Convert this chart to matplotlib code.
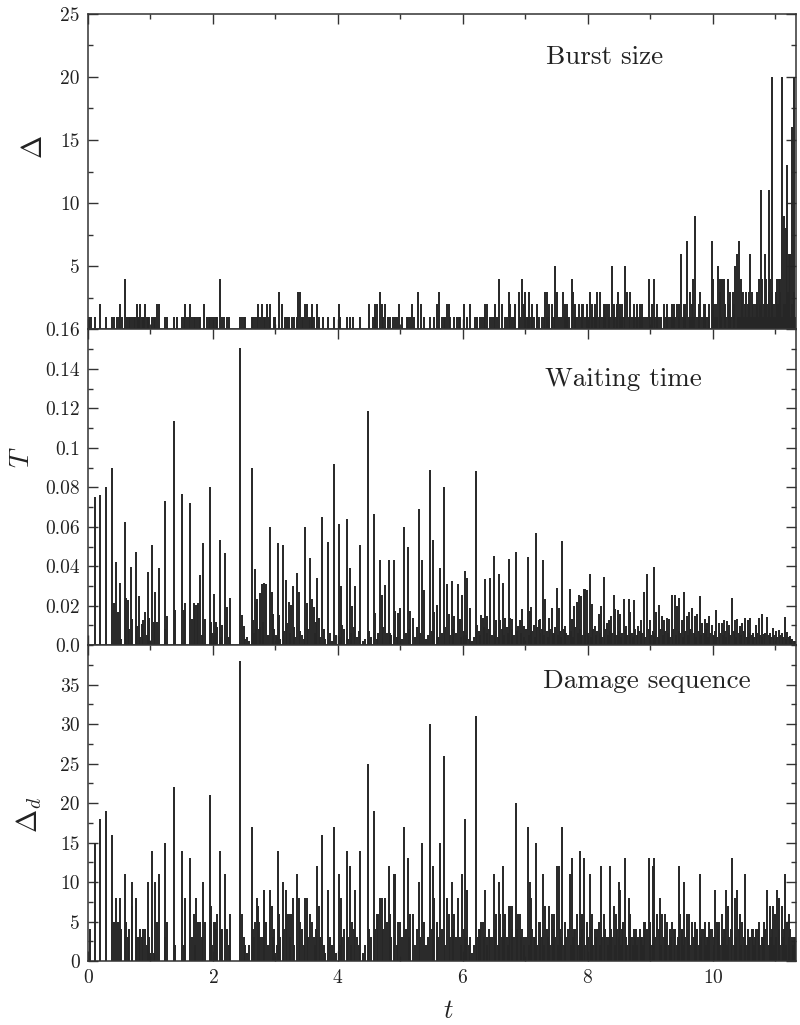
import matplotlib.pyplot as plt
from matplotlib.ticker import FixedLocator, FixedFormatter, MultipleLocator

plt.rcParams['font.family'] = 'serif'
plt.rcParams['font.serif'] = ['cmr10']
plt.rcParams['mathtext.fontset'] = 'cm'
plt.rcParams['axes.formatter.use_mathtext'] = True

# ---- burst size (top panel) ----
# times of the bursts of size 1
burst_ones_t = [0.01, 0.05, 0.11, 0.29, 0.38, 0.42, 0.46, 0.49, 0.54, 0.62, 0.65, 0.68, 0.71,
                0.74, 0.75, 0.80, 0.82, 0.86, 0.88, 0.90, 0.94, 0.96, 0.98, 1.02, 1.05, 1.07,
                1.23, 1.26, 1.37, 1.42, 1.51, 1.54, 1.58, 1.61, 1.66, 1.69, 1.71, 1.74, 1.78,
                1.79, 1.90, 1.94, 1.96, 1.99, 2.02, 2.05, 2.07, 2.14, 2.18, 2.22, 2.26, 2.43,
                2.46, 2.49, 2.51, 2.62, 2.64, 2.67, 2.70, 2.75, 2.81, 2.83, 2.89, 2.97, 2.99,
                3.15, 3.18, 3.22, 3.26, 3.29, 3.34, 3.42, 3.445, 3.53, 3.55, 3.58, 3.62, 3.69,
                3.76, 3.84, 3.93, 4.03, 4.15, 4.19, 4.24, 4.35, 4.56, 4.59, 4.72, 4.80, 4.83,
                4.88, 4.91, 4.95, 5.02, 5.10, 5.12, 5.15, 5.21, 5.37, 5.47, 5.53, 5.66, 5.69,
                5.71, 5.79, 5.85, 5.90, 5.93, 5.95, 6.06, 6.19, 6.22, 6.27, 6.30, 6.33, 6.43,
                6.46, 6.49, 6.54, 6.67, 6.70, 6.78, 6.81, 6.91, 6.99, 7.02, 7.04, 7.08, 7.11,
                7.14, 7.18, 7.22, 7.26, 7.29, 7.35, 7.38, 7.42, 7.45, 7.54, 7.57, 7.63, 7.66,
                7.70, 7.79, 7.83, 7.89, 7.95, 7.98, 8.01, 8.07, 8.10, 8.13, 8.17, 8.22, 8.25,
                8.28, 8.34, 8.36, 8.42, 8.45, 8.51, 8.54, 8.57, 8.65, 8.70, 8.73, 8.76, 8.79,
                8.82, 8.85, 8.88, 8.91, 8.94, 9.00, 9.03, 9.08, 9.11, 9.14, 9.17, 9.24, 9.27,
                9.30, 9.33, 9.36, 9.39, 9.45, 9.52, 9.55, 9.61, 9.65, 9.70, 9.75, 9.77, 9.82,
                9.85, 9.88, 9.91, 9.94, 10.03, 10.06, 10.13, 10.19, 10.21, 10.27, 10.29,
                10.34, 10.40, 10.44, 10.50, 10.52, 10.55, 10.59, 10.62, 10.65, 10.68, 10.72,
                10.76, 10.80, 10.82, 10.86, 10.88, 10.93, 10.97, 10.99, 11.03, 11.05, 11.09,
                11.12, 11.16, 11.18, 11.21, 11.23, 11.25, 11.28, 11.31]
# bursts of size >= 2 as (t, size)
burst_big = [(0.19, 2), (0.52, 2), (0.59, 4), (0.78, 2), (0.83, 2), (0.92, 2), (1.10, 2),
             (1.14, 2), (1.56, 2), (1.63, 2), (1.85, 2), (2.11, 4), (2.72, 2), (2.79, 2),
             (2.86, 2), (2.92, 2), (3.06, 3), (3.11, 2), (3.36, 3), (3.40, 3), (3.47, 2),
             (3.50, 2), (3.59, 2), (3.67, 2), (4.01, 2), (4.49, 2), (4.60, 2), (4.63, 2),
             (4.67, 3), (4.70, 2), (4.76, 2), (4.98, 2), (5.18, 2), (5.28, 3), (5.33, 2),
             (5.58, 2), (5.62, 3), (5.74, 2), (5.77, 2), (6.02, 2), (6.11, 2), (6.36, 2),
             (6.39, 2), (6.51, 2), (6.58, 4), (6.63, 2), (6.73, 3), (6.75, 2), (6.84, 2),
             (6.89, 3), (6.94, 4), (6.97, 2), (7.00, 3), (7.06, 3), (7.10, 2), (7.18, 2),
             (7.31, 3), (7.34, 3), (7.38, 2), (7.42, 2), (7.48, 5), (7.51, 3), (7.60, 3),
             (7.63, 2), (7.66, 2), (7.74, 4), (7.76, 3), (7.79, 2), (7.86, 2), (7.90, 2),
             (7.92, 2), (7.98, 2), (8.04, 3), (8.07, 2), (8.11, 2), (8.15, 3), (8.19, 3),
             (8.25, 2), (8.27, 2), (8.31, 2), (8.34, 2), (8.39, 5), (8.42, 2), (8.46, 2),
             (8.48, 3), (8.51, 2), (8.54, 2), (8.59, 5), (8.62, 3), (8.67, 3), (8.73, 2),
             (8.78, 2), (8.83, 2), (8.86, 2), (8.97, 4), (9.02, 2), (9.05, 4), (9.10, 2),
             (9.21, 2), (9.26, 2), (9.34, 2), (9.37, 2), (9.42, 2), (9.46, 2), (9.49, 6),
             (9.53, 2), (9.55, 2), (9.59, 7), (9.63, 3), (9.66, 2), (9.68, 4), (9.72, 9),
             (9.77, 2), (9.79, 3), (9.85, 2), (9.87, 2), (9.93, 2), (9.98, 7), (10.00, 4),
             (10.02, 2), (10.05, 2), (10.08, 5), (10.11, 3), (10.12, 4), (10.14, 4),
             (10.17, 4), (10.20, 2), (10.24, 4), (10.26, 2), (10.28, 3), (10.32, 3),
             (10.33, 2), (10.36, 5), (10.39, 6), (10.42, 7), (10.45, 4), (10.47, 3),
             (10.48, 3), (10.51, 2), (10.53, 3), (10.56, 2), (10.58, 3), (10.60, 6),
             (10.63, 3), (10.64, 2), (10.67, 2), (10.70, 3), (10.71, 2), (10.73, 4),
             (10.75, 2), (10.77, 11), (10.79, 4), (10.81, 2), (10.84, 6), (10.85, 4),
             (10.87, 2), (10.89, 3), (10.90, 11), (10.92, 4), (10.94, 3), (10.95, 20),
             (10.98, 2), (11.01, 3), (11.02, 4), (11.04, 2), (11.05, 4), (11.07, 4),
             (11.08, 3), (11.10, 20), (11.13, 2), (11.14, 9), (11.15, 2), (11.17, 8),
             (11.19, 13), (11.20, 3), (11.22, 6), (11.24, 6), (11.26, 16), (11.27, 2),
             (11.29, 20), (11.30, 3)]

# ---- waiting time (middle panel), (t, T) ----
wait = [(0.12, .0753), (0.19, .076), (0.29, .080), (0.38, .090), (0.41, .0216), (0.45, .0424),
        (0.48, .017), (0.51, .0315), (0.53, .003), (0.59, .0625), (0.61, .024), (0.64, .023),
        (0.66, .008), (0.69, .0395), (0.71, .0135), (0.77, .047), (0.79, .0095), (0.81, .025),
        (0.83, .004), (0.86, .011), (0.88, .013), (0.91, .017), (0.94, .005), (0.96, .037),
        (0.98, .014), (1.00, .002), (1.03, .0506), (1.05, .012), (1.08, .027), (1.11, .012),
        (1.14, .039), (1.23, .073), (1.24, .008), (1.26, .015), (1.37, .1137), (1.40, .018),
        (1.51, .0765), (1.54, .018), (1.56, .0215), (1.64, .072), (1.66, .0135), (1.69, .0212),
        (1.71, .0205), (1.74, .0205), (1.76, .0215), (1.79, .0355), (1.82, .005), (1.84, .052),
        (1.87, .0135), (1.95, .080), (1.97, .012), (1.99, .006), (2.01, .026), (2.03, .006),
        (2.05, .012), (2.07, .009), (2.11, .0535), (2.13, .004), (2.15, .010), (2.19, .0465),
        (2.22, .0195), (2.25, .004), (2.27, .024), (2.43, .1508), (2.46, .0155), (2.50, .0095),
        (2.52, .003), (2.62, .0898), (2.64, .013), (2.68, .0385), (2.69, .022), (2.71, .0235),
        (2.73, .008), (2.76, .0265), (2.79, .031), (2.82, .0316), (2.85, .031), (2.92, .0598),
        (2.94, .027), (2.96, .0157), (3.01, .005), (3.04, .052), (3.06, .0152), (3.12, .0506),
        (3.17, .033), (3.19, .0113), (3.21, .022), (3.25, .0206), (3.28, .030), (3.34, .0366),
        (3.37, .0268), (3.40, .007), (3.47, .0598), (3.50, .0213), (3.55, .0441), (3.58, .0234),
        (3.61, .0196), (3.67, .0339), (3.69, .0138), (3.75, .0649), (3.78, .008), (3.84, .0523),
        (3.94, .0919), (4.01, .0615), (4.05, .030), (4.07, .010), (4.14, .0642), (4.19, .039),
        (4.23, .020), (4.27, .030), (4.36, .0509), (4.48, .1188), (4.50, .007), (4.57, .0666),
        (4.60, .0165), (4.62, .003), (4.67, .043), (4.70, .0254), (4.75, .0305), (4.78, .006),
        (4.81, .043), (4.83, .006), (4.89, .0433), (4.92, .0174), (4.96, .0162), (4.99, .019),
        (5.06, .0598), (5.12, .050), (5.16, .0174), (5.20, .0138), (5.29, .069), (5.34, .043),
        (5.38, .0281), (5.47, .0888), (5.52, .0535), (5.54, .017), (5.58, .0202), (5.63, .039),
        (5.70, .0801), (5.74, .0309), (5.77, .016), (5.82, .0325), (5.86, .0149), (5.92, .031),
        (5.95, .0131), (5.99, .0252), (6.03, .0378), (6.07, .0343), (6.12, .0189), (6.21, .0881),
        (6.23, .0104), (6.29, .0152), (6.32, .0138), (6.36, .0336), (6.39, .0149), (6.43, .0339),
        (6.49, .0451), (6.53, .0127), (6.58, .0363), (6.60, .0127), (6.64, .0316), (6.68, .0138),
        (6.74, .0438), (6.76, .014), (6.79, .0134), (6.85, .0472), (6.88, .0097), (6.91, .0127),
        (6.95, .0182), (6.98, .0097), (7.04, .0445), (7.07, .0174), (7.09, .0194), (7.14, .010),
        (7.17, .0571), (7.21, .013), (7.24, .0134), (7.28, .043), (7.32, .0236), (7.37, .0138),
        (7.42, .019), (7.45, .006), (7.50, .0291), (7.53, .019), (7.59, .0529), (7.63, .0097),
        (7.71, .0285), (7.74, .0134), (7.78, .020), (7.82, .0217), (7.86, .0257), (7.89, .025),
        (7.93, .0285), (7.95, .0285), (7.98, .028), (8.03, .0363), (8.06, .0208), (8.11, .0097),
        (8.17, .0157), (8.21, .020), (8.25, .0346), (8.30, .0113), (8.33, .0127), (8.37, .0149),
        (8.41, .0254), (8.44, .0185), (8.48, .0178), (8.51, .016), (8.57, .0236), (8.61, .0097),
        (8.65, .0236), (8.68, .017), (8.74, .0229), (8.80, .0097), (8.85, .013), (8.90, .0268),
        (8.95, .0363), (8.99, .013), (9.06, .0394), (9.09, .017), (9.14, .0206), (9.18, .0149),
        (9.22, .013), (9.26, .0138), (9.30, .0134), (9.34, .0254), (9.39, .0254), (9.43, .020),
        (9.46, .0241), (9.50, .013), (9.54, .0268), (9.58, .0149), (9.62, .017), (9.67, .019),
        (9.71, .0149), (9.75, .016), (9.79, .025), (9.83, .0113), (9.87, .0134), (9.90, .0115),
        (9.94, .0149), (9.99, .0105), (10.05, .0177), (10.10, .0115), (10.14, .0113),
        (10.18, .013), (10.23, .0121), (10.26, .010), (10.31, .0241), (10.35, .013),
        (10.39, .0134), (10.43, .0097), (10.47, .0113), (10.52, .0138), (10.56, .013),
        (10.60, .0138), (10.64, .0063), (10.69, .0105), (10.74, .0138), (10.78, .016),
        (10.81, .0055), (10.87, .0144), (10.91, .0063), (10.96, .0089), (11.01, .0072),
        (11.05, .0077), (11.10, .006), (11.15, .0144), (11.19, .0068), (11.23, .0048),
        (11.27, .0034), (11.31, .0022)]
# short waiting times forming the dark floor
wait_floor = [(2.55, .004), (2.58, .002), (2.66, .006), (2.75, .009), (2.80, .012), (2.88, .005),
              (2.98, .008), (3.02, .004), (3.08, .003), (3.14, .007), (3.23, .006), (3.30, .009),
              (3.32, .004), (3.43, .005), (3.45, .003), (3.52, .008), (3.63, .006), (3.65, .012),
              (3.72, .004), (3.80, .003), (3.87, .006), (3.90, .002), (3.97, .005), (4.03, .004),
              (4.10, .008), (4.16, .003), (4.21, .006), (4.25, .009), (4.30, .004), (4.33, .007),
              (4.40, .002), (4.44, .003), (4.53, .004), (4.64, .006), (4.72, .009), (4.85, .005),
              (4.94, .004), (5.02, .003), (5.09, .006), (5.14, .008), (5.23, .004), (5.26, .009),
              (5.32, .006), (5.41, .003), (5.44, .005), (5.50, .007), (5.60, .004), (5.66, .006),
              (5.72, .009), (5.80, .005), (5.84, .008), (5.89, .006), (5.97, .004), (6.01, .007),
              (6.05, .005), (6.10, .003), (6.15, .002), (6.18, .004), (6.25, .007), (6.27, .005),
              (6.34, .009), (6.38, .006), (6.41, .008), (6.46, .005), (6.51, .007), (6.56, .004),
              (6.62, .008), (6.66, .005), (6.70, .009), (6.72, .006), (6.78, .008), (6.82, .005),
              (6.87, .007), (6.93, .006), (6.97, .004), (7.01, .008), (7.06, .005), (7.11, .007),
              (7.16, .004), (7.19, .009), (7.23, .006), (7.26, .008), (7.30, .005), (7.34, .007),
              (7.36, .004), (7.40, .008), (7.44, .006), (7.47, .009), (7.52, .005), (7.55, .007),
              (7.57, .004), (7.61, .008), (7.65, .006), (7.68, .005), (7.73, .007), (7.76, .004),
              (7.80, .009), (7.84, .006), (7.88, .008), (7.91, .005), (7.96, .007), (8.00, .006),
              (8.05, .004), (8.08, .008), (8.13, .005), (8.15, .007), (8.19, .006), (8.23, .004),
              (8.27, .008), (8.32, .005), (8.35, .007), (8.39, .006), (8.43, .009), (8.46, .005),
              (8.50, .007), (8.53, .004), (8.55, .006), (8.59, .008), (8.63, .005), (8.67, .007),
              (8.70, .006), (8.72, .004), (8.76, .008), (8.78, .005), (8.83, .007), (8.87, .006),
              (8.92, .004), (8.97, .008), (9.01, .005), (9.04, .007), (9.07, .006), (9.12, .004),
              (9.16, .008), (9.20, .005), (9.24, .007), (9.28, .006), (9.32, .004), (9.36, .008),
              (9.41, .005), (9.45, .007), (9.48, .006), (9.52, .004), (9.56, .007), (9.60, .005),
              (9.64, .008), (9.69, .006), (9.73, .004), (9.77, .007), (9.81, .005), (9.85, .006),
              (9.89, .008), (9.92, .004), (9.96, .006), (10.01, .005), (10.03, .007),
              (10.07, .004), (10.12, .006), (10.16, .005), (10.20, .007), (10.21, .004),
              (10.25, .006), (10.28, .005), (10.33, .007), (10.37, .004), (10.41, .006),
              (10.45, .005), (10.49, .007), (10.54, .004), (10.58, .006), (10.62, .005),
              (10.66, .004), (10.71, .006), (10.76, .005), (10.79, .004), (10.84, .006),
              (10.89, .005), (10.93, .004), (10.98, .005), (11.03, .004), (11.07, .005),
              (11.12, .004), (11.17, .003), (11.21, .004), (11.25, .003), (11.29, .002)]

# ---- damage sequence (bottom panel), (t, Delta_d) ----
dmg = [(0.03, 4), (0.12, 15), (0.19, 18), (0.29, 19), (0.38, 16), (0.41, 5), (0.45, 8),
       (0.48, 5), (0.51, 8), (0.53, 4), (0.59, 11), (0.61, 5), (0.64, 3), (0.66, 4),
       (0.70, 10), (0.71, 7), (0.77, 8), (0.79, 3), (0.81, 3), (0.83, 4), (0.86, 3),
       (0.88, 4), (0.91, 4), (0.94, 2), (0.96, 10), (0.98, 3), (1.00, 1), (1.03, 14),
       (1.05, 1), (1.08, 10), (1.11, 5), (1.14, 11), (1.23, 15), (1.24, 3), (1.26, 5),
       (1.37, 22), (1.40, 2), (1.51, 14), (1.54, 2), (1.56, 8), (1.64, 13), (1.66, 3),
       (1.69, 6), (1.71, 2), (1.73, 8), (1.76, 5), (1.79, 5), (1.82, 3), (1.84, 10),
       (1.87, 5), (1.95, 21), (1.97, 7), (1.99, 2), (2.01, 5), (2.03, 5), (2.05, 4),
       (2.07, 6), (2.11, 14), (2.13, 4), (2.15, 4), (2.19, 11), (2.22, 4), (2.25, 2),
       (2.28, 6), (2.43, 38), (2.46, 6), (2.49, 3), (2.51, 2), (2.62, 17), (2.64, 4),
       (2.68, 5), (2.70, 8), (2.72, 7), (2.74, 5), (2.76, 3), (2.78, 3), (2.81, 9),
       (2.82, 9), (2.85, 5), (2.92, 9), (2.94, 7), (2.96, 3), (3.00, 1), (3.04, 14),
       (3.06, 6), (3.12, 10), (3.17, 9), (3.19, 6), (3.21, 6), (3.25, 6), (3.28, 8),
       (3.34, 11), (3.37, 8), (3.40, 5), (3.47, 8), (3.50, 8), (3.55, 6), (3.58, 5),
       (3.61, 3), (3.67, 12), (3.69, 7), (3.75, 16), (3.78, 2), (3.84, 9), (3.94, 17),
       (4.01, 11), (4.05, 8), (4.07, 3), (4.14, 14), (4.19, 12), (4.23, 5), (4.27, 9),
       (4.36, 14), (4.48, 25), (4.50, 4), (4.57, 19), (4.60, 4), (4.62, 6), (4.67, 8),
       (4.70, 8), (4.75, 8), (4.78, 5), (4.81, 12), (4.83, 6), (4.89, 11), (4.92, 11),
       (4.96, 5), (4.99, 5), (5.06, 17), (5.12, 13), (5.16, 6), (5.20, 6), (5.29, 10),
       (5.34, 15), (5.38, 5), (5.47, 30), (5.52, 12), (5.54, 8), (5.58, 5), (5.63, 15),
       (5.70, 26), (5.74, 8), (5.77, 6), (5.82, 10), (5.86, 6), (5.92, 8), (5.95, 3),
       (5.99, 11), (6.03, 18), (6.07, 9), (6.12, 3), (6.21, 31), (6.23, 3), (6.26, 4),
       (6.29, 5), (6.32, 5), (6.36, 9), (6.39, 3), (6.43, 3), (6.49, 11), (6.53, 6),
       (6.58, 10), (6.60, 6), (6.64, 12), (6.68, 6), (6.74, 7), (6.76, 7), (6.79, 7),
       (6.85, 20), (6.88, 6), (6.91, 6), (6.95, 4), (6.98, 3), (7.04, 17), (7.07, 10),
       (7.09, 8), (7.13, 3), (7.17, 15), (7.21, 5), (7.24, 5), (7.28, 11), (7.32, 7),
       (7.37, 7), (7.42, 6), (7.45, 6), (7.50, 12), (7.53, 12), (7.59, 17), (7.63, 5),
       (7.71, 11), (7.74, 13), (7.78, 4), (7.82, 6), (7.87, 14), (7.90, 6), (7.94, 13),
       (7.98, 5), (8.03, 11), (8.06, 6), (8.11, 4), (8.17, 5), (8.21, 12), (8.25, 6),
       (8.30, 3), (8.35, 12), (8.37, 4), (8.42, 7), (8.45, 6), (8.49, 10), (8.51, 9),
       (8.56, 5), (8.59, 13), (8.65, 8), (8.68, 6), (8.74, 4), (8.77, 4), (8.80, 3),
       (8.85, 3), (8.90, 5), (8.92, 5), (8.97, 13), (9.00, 5), (9.04, 12), (9.06, 13),
       (9.11, 6), (9.15, 8), (9.19, 6), (9.23, 6), (9.27, 5), (9.31, 4), (9.35, 5),
       (9.40, 4), (9.45, 12), (9.48, 6), (9.51, 4), (9.54, 10), (9.58, 6), (9.62, 6),
       (9.67, 5), (9.71, 5), (9.75, 4), (9.79, 11), (9.83, 4), (9.87, 5), (9.90, 3),
       (9.94, 5), (9.98, 4), (10.04, 9), (10.06, 5), (10.10, 5), (10.14, 6), (10.18, 4),
       (10.21, 9), (10.24, 7), (10.31, 13), (10.35, 8), (10.39, 9), (10.43, 6), (10.47, 5),
       (10.52, 11), (10.56, 4), (10.60, 3), (10.64, 4), (10.69, 4), (10.74, 5), (10.78, 3),
       (10.81, 5), (10.87, 9), (10.91, 7), (10.96, 7), (10.99, 6), (11.03, 9), (11.06, 8),
       (11.10, 7), (11.15, 11), (11.19, 5), (11.22, 6), (11.26, 3), (11.30, 3), (11.33, 3)]
# small damage values forming the dark floor
dmg_floor = [(2.55, 1), (2.58, 2), (2.66, 3), (2.88, 2), (2.98, 4), (3.02, 2), (3.08, 3),
             (3.14, 4), (3.23, 3), (3.30, 2), (3.43, 4), (3.45, 2), (3.52, 3), (3.63, 2),
             (3.65, 4), (3.72, 3), (3.80, 1), (3.87, 3), (3.90, 2), (3.97, 1), (4.03, 2),
             (4.10, 4), (4.16, 3), (4.21, 2), (4.25, 4), (4.30, 3), (4.33, 2), (4.40, 1),
             (4.44, 2), (4.53, 3), (4.64, 6), (4.72, 4), (4.85, 3), (4.94, 2), (5.02, 3),
             (5.09, 4), (5.14, 3), (5.23, 2), (5.26, 4), (5.32, 3), (5.41, 2), (5.44, 3),
             (5.50, 4), (5.60, 3), (5.66, 4), (5.72, 2), (5.80, 3), (5.84, 4), (5.89, 3),
             (5.97, 2), (6.01, 4), (6.05, 3), (6.10, 2), (6.15, 1), (6.18, 2), (6.25, 3),
             (6.27, 4), (6.34, 3), (6.38, 2), (6.41, 4), (6.46, 3), (6.51, 4), (6.56, 2),
             (6.62, 3), (6.66, 4), (6.70, 3), (6.72, 2), (6.78, 4), (6.82, 3), (6.87, 4),
             (6.93, 3), (6.97, 2), (7.01, 3), (7.06, 2), (7.11, 4), (7.15, 3), (7.19, 2),
             (7.23, 4), (7.26, 3), (7.30, 2), (7.34, 4), (7.36, 3), (7.40, 2), (7.44, 4),
             (7.47, 3), (7.52, 2), (7.55, 4), (7.57, 3), (7.61, 2), (7.65, 3), (7.68, 4),
             (7.73, 2), (7.76, 3), (7.80, 4), (7.84, 2), (7.88, 3), (7.91, 4), (7.96, 2),
             (8.00, 3), (8.05, 4), (8.08, 2), (8.13, 3), (8.15, 4), (8.19, 2), (8.23, 3),
             (8.27, 4), (8.32, 2), (8.33, 3), (8.39, 3), (8.43, 2), (8.47, 4), (8.50, 3),
             (8.53, 2), (8.55, 4), (8.61, 3), (8.63, 2), (8.67, 4), (8.70, 3), (8.72, 2),
             (8.76, 3), (8.78, 2), (8.83, 4), (8.87, 3), (8.88, 2), (8.94, 4), (8.99, 3),
             (9.02, 2), (9.08, 3), (9.13, 4), (9.17, 2), (9.21, 3), (9.25, 4), (9.29, 2),
             (9.33, 3), (9.37, 4), (9.42, 2), (9.44, 3), (9.50, 4), (9.53, 2), (9.56, 3),
             (9.60, 4), (9.64, 2), (9.69, 3), (9.73, 4), (9.77, 2), (9.81, 3), (9.85, 4),
             (9.89, 2), (9.92, 3), (9.96, 4), (10.01, 2), (10.02, 3), (10.08, 4), (10.12, 2),
             (10.16, 3), (10.20, 4), (10.23, 2), (10.26, 3), (10.29, 4), (10.33, 2),
             (10.37, 3), (10.41, 4), (10.45, 2), (10.49, 3), (10.51, 4), (10.54, 2),
             (10.58, 3), (10.62, 4), (10.66, 2), (10.67, 3), (10.72, 4), (10.76, 2),
             (10.80, 3), (10.84, 4), (10.89, 2), (10.93, 3), (10.95, 4), (10.98, 2),
             (11.01, 3), (11.05, 4), (11.08, 2), (11.12, 3), (11.14, 4), (11.17, 2),
             (11.21, 3), (11.24, 4), (11.28, 2), (11.32, 3)]

ytick_vals = [[5, 10, 15, 20, 25],
              [0.0, 0.02, 0.04, 0.06, 0.08, 0.1, 0.12, 0.14, 0.16],
              [0, 5, 10, 15, 20, 25, 30, 35]]
ytick_text = [['5', '10', '15', '20', '25'],
              ['0.0', '0.02', '0.04', '0.06', '0.08', '0.1', '0.12', '0.14', '0.16'],
              ['0', '5', '10', '15', '20', '25', '30', '35']]
ylims = [(0, 25), (0, 0.16), (0, 40)]
yminor = [2.5, 0.01, 2.5]
titles = ['Burst size', 'Waiting time', 'Damage sequence']
ylabels = [r'$\Delta$', r'$T$', r'$\Delta_d$']

SPIKE = '#262626'
AXC = '#333333'
LW = 1.4


def spikes(ax, pairs):
    t, v = zip(*pairs)
    ax.vlines(t, 0, v, colors=SPIKE, lw=LW)


fig = plt.figure(figsize=(8, 10.25), dpi=100)
left, width = 0.11, 0.885
h = 0.3081
bottoms = [0.0624 + 2 * h, 0.0624 + h, 0.0624]
axes = [fig.add_axes([left, b, width, h]) for b in bottoms]

ax1, ax2, ax3 = axes
ax1.vlines(burst_ones_t, 0, 1, colors=SPIKE, lw=LW)
spikes(ax1, burst_big)
spikes(ax2, wait_floor)
spikes(ax2, wait)
spikes(ax3, dmg_floor)
spikes(ax3, dmg)

label_pos = [(-0.075, 0.576), (-0.094, 0.595), (-0.083, 0.463)]
title_pos = [(0.647, 0.861), (0.646, 0.842), (0.642, 0.886)]

for i, ax in enumerate(axes):
    ax.set_xlim(0, 11.33)
    ax.set_ylim(*ylims[i])
    ax.yaxis.set_major_locator(FixedLocator(ytick_vals[i]))
    ax.yaxis.set_major_formatter(FixedFormatter(ytick_text[i]))
    ax.yaxis.set_minor_locator(MultipleLocator(yminor[i]))
    ax.xaxis.set_major_locator(MultipleLocator(2))
    ax.xaxis.set_minor_locator(MultipleLocator(1))
    ax.tick_params(which='both', direction='in', top=True, right=True,
                   colors=AXC, labelcolor='#222222', labelsize=14, width=1.0)
    ax.tick_params(which='major', length=7, pad=6)
    ax.tick_params(which='minor', length=3.5)
    for s in ax.spines.values():
        s.set_color(AXC)
        s.set_linewidth(1.1)
    if i < 2:
        ax.tick_params(labelbottom=False)
    ax.text(title_pos[i][0], title_pos[i][1], titles[i], transform=ax.transAxes,
            fontsize=19.5, ha='left', va='center', color='#222222')
    ax.text(label_pos[i][0], label_pos[i][1], ylabels[i], transform=ax.transAxes,
            fontsize=20, rotation=90, ha='center', va='center', color='#222222')

ax3.text(0.509, -0.158, r'$t$', transform=ax3.transAxes, fontsize=19,
         ha='center', va='center', color='#222222')

fig.savefig('out.png', dpi=100)
